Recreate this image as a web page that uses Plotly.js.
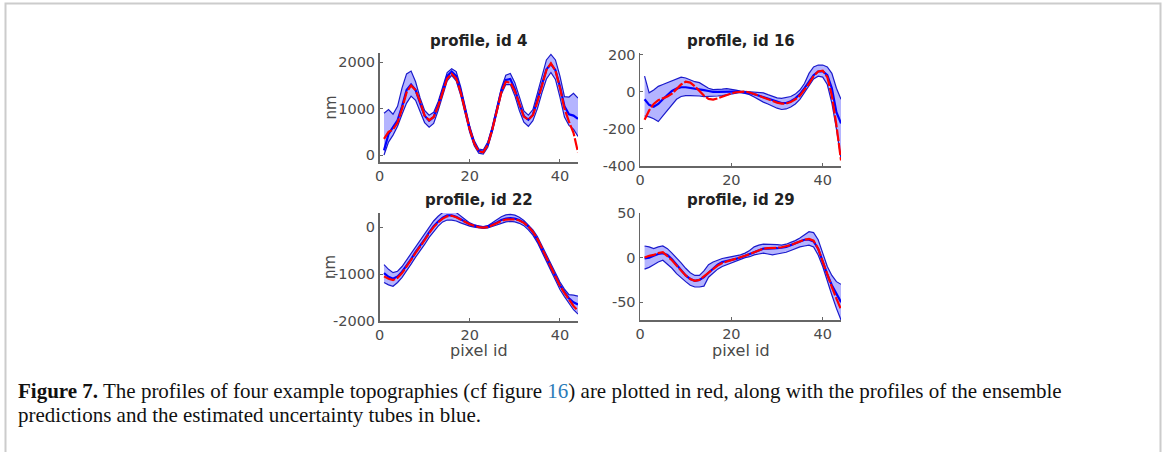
<!DOCTYPE html>
<html>
<head>
<meta charset="utf-8">
<script src="https://cdn.plot.ly/plotly-3.0.1.min.js"></script>
<style>
html,body{margin:0;padding:0;background:#fff;}
#chart{width:1165px;height:452px;}
</style>
</head>
<body>
<div id="chart"></div>
<script>
// ---- data ----
const pixelId = [1,2,3,4,5,6,7,8,9,10,11,12,13,14,15,16,17,18,19,20,21,22,23,24,25,26,27,28,29,30,31,32,33,34,35,36,37,38,39,40,41,42,43,44];

const titles = ["profile, id 4", "profile, id 16", "profile, id 22", "profile, id 29"];

// id 4
const red4   = [350,500,550,700,1000,1350,1500,1400,1150,850,750,820,1050,1350,1650,1750,1650,1350,950,550,250,80,60,220,550,950,1350,1580,1560,1380,1080,830,760,860,1150,1500,1830,1980,1820,1450,1000,720,480,60];
const blue4  = [100,450,600,750,1050,1400,1520,1400,1120,850,740,820,1070,1400,1700,1800,1700,1380,960,560,260,90,70,230,560,970,1380,1620,1640,1420,1100,840,760,870,1170,1520,1850,1960,1830,1480,1050,880,850,780];
const upper4 = [900,980,880,1050,1450,1750,1810,1580,1230,960,860,920,1150,1480,1780,1860,1800,1470,1030,620,310,130,110,280,610,1020,1440,1720,1760,1560,1230,950,860,980,1330,1720,2050,2170,2050,1700,1260,1250,1330,1230];
const lower4 = [0,280,430,620,880,1120,1270,1180,940,700,600,680,960,1300,1600,1720,1600,1290,880,490,200,40,20,170,500,910,1310,1520,1520,1280,960,710,620,740,1000,1340,1640,1780,1630,1250,820,640,560,400];

// id 16
const red16   = [-150,-100,-65,-45,-35,-25,-10,15,40,55,50,30,5,-20,-38,-42,-35,-25,-15,-8,-2,2,2,-3,-10,-20,-30,-40,-50,-58,-63,-63,-55,-40,-20,10,45,85,110,115,80,-20,-180,-370];
const blue16  = [-40,-70,-80,-65,-40,-15,5,18,25,25,22,20,15,10,5,0,0,2,3,2,1,0,0,-5,-12,-20,-28,-38,-48,-55,-60,-60,-50,-35,-12,20,55,90,110,112,90,20,-110,-170];
const upper16 = [85,-5,10,30,40,50,60,72,80,75,65,55,50,35,20,12,12,15,18,15,10,5,3,3,0,-2,-5,-15,-25,-32,-35,-32,-25,-12,10,45,100,135,145,145,135,100,20,-40];
const lower16 = [-130,-135,-145,-160,-130,-100,-70,-40,-25,-20,-20,-20,-22,-25,-25,-25,-22,-20,-15,-12,-8,-3,-8,-15,-28,-42,-55,-65,-78,-88,-95,-92,-82,-65,-40,-5,35,70,85,80,40,-60,-200,-360];

// id 22
const red22   = [-1050,-1100,-1130,-1080,-980,-850,-700,-550,-420,-280,-130,0,100,180,230,240,210,160,110,60,30,0,-10,0,40,90,130,160,170,165,140,90,10,-100,-250,-450,-650,-850,-1050,-1250,-1400,-1550,-1680,-1780];
const blue22  = [-980,-1060,-1100,-1050,-950,-820,-680,-530,-400,-260,-110,20,120,200,250,250,220,170,110,60,30,5,-5,10,50,100,150,180,190,180,150,95,10,-110,-270,-470,-670,-870,-1060,-1240,-1380,-1520,-1600,-1650];
const upper22 = [-800,-900,-970,-940,-840,-700,-560,-410,-280,-150,0,130,230,310,350,350,310,240,160,90,50,20,10,30,90,160,220,260,270,255,210,140,50,-60,-200,-390,-590,-790,-990,-1170,-1320,-1440,-1450,-1470];
const lower22 = [-1180,-1230,-1260,-1180,-1070,-940,-790,-640,-510,-370,-220,-90,20,110,150,150,130,90,50,20,0,-20,-30,-20,10,40,80,110,120,110,80,30,-60,-170,-330,-530,-740,-940,-1140,-1330,-1480,-1620,-1760,-1850];

// id 29
const red29   = [0,2,3,5,6,2,-3,-9,-15,-20,-24,-26,-25,-21,-16,-12,-9,-6,-4.5,-3,-1.5,0,2,4,6,8,10,10.5,10.5,11,11.6,12.5,14,16,18,20,21,19,10,-5,-20,-33,-46,-58];
const blue29  = [-1,0,2,4,5,3,-2,-8,-14,-20,-24,-26,-25,-22,-17,-12,-8,-5,-4,-3,-1.5,0,2,4,6,8,10,10,10,10.5,11,12,14,16,18,20,20,18,10,-5,-19,-31,-41,-50];
const upper29 = [13,12,10,12,13,10,5,0,-6,-12,-17,-20,-20,-15,-8,-5,-3,-1,0,1,2,3,5,8,12,14,15,15,15,14.5,14,15,17,19,22,26,29,28,20,5,-10,-20,-27,-30];
const lower29 = [-13,-11,-8,-5,-3,-7,-12,-18,-23,-27,-31,-33,-33,-32,-22,-17,-13,-10,-8,-6,-4,-2,0,1,3,4,5,4,3,4,5,6,8,10,12,13,14,12,3,-10,-27,-42,-57,-70];

const xTicks = [0, 20, 40];
const yTicks = [[0,1000,2000],[-400,-200,0,200],[-2000,-1000,0],[-50,0,50]];
const yRanges = [[-150,2200],[-400,210],[-2000,300],[-70,50]];

const captionLine1 = "<b>Figure 7.</b> The profiles of four example topographies (cf figure <span style='color:#2b7bb9'>16</span>) are plotted in red, along with the profiles of the ensemble";
const captionLine2 = "predictions and the estimated uncertainty tubes in blue.";

// ---- layout helpers (pixel -> paper) ----
const W = 1165, H = 452;
const px = v => v / W;
const py = v => 1 - v / H;

const panels = [
  {upper: upper4, lower: lower4, blue: blue4, red: red4, x0: 379.5, x1: 578, y0: 53, y1: 162},
  {upper: upper16, lower: lower16, blue: blue16, red: red16, x0: 640, x1: 841, y0: 53, y1: 166},
  {upper: upper22, lower: lower22, blue: blue22, red: red22, x0: 379.5, x1: 578, y0: 213, y1: 321},
  {upper: upper29, lower: lower29, blue: blue29, red: red29, x0: 640, x1: 841, y0: 213, y1: 320}
];

const traces = [];
const layout = {
  width: W, height: H,
  margin: {l: 0, r: 0, t: 0, b: 0},
  paper_bgcolor: '#fff', plot_bgcolor: 'rgba(0,0,0,0)',
  showlegend: false,
  font: {family: 'DejaVu Sans', size: 14, color: '#4a4a4a'},
  annotations: [],
  shapes: [{
    type: 'rect', xref: 'paper', yref: 'paper',
    x0: px(5.5), x1: px(1160.5), y0: py(470), y1: py(3.5),
    line: {color: '#cccccc', width: 2}, fillcolor: 'rgba(0,0,0,0)'
  }]
};

const fmt = v => String(v); // plain hyphen minus, as in the reference

panels.forEach((p, i) => {
  const n = i + 1;
  const xa = n === 1 ? 'x' : 'x' + n;
  const ya = n === 1 ? 'y' : 'y' + n;
  traces.push({x: pixelId, y: p.upper, xaxis: xa, yaxis: ya, type: 'scatter', mode: 'lines',
    line: {color: '#1a1acc', width: 1.2}, hoverinfo: 'skip'});
  traces.push({x: pixelId, y: p.lower, xaxis: xa, yaxis: ya, type: 'scatter', mode: 'lines',
    fill: 'tonexty', fillcolor: 'rgba(40,40,255,0.35)',
    line: {color: '#1a1acc', width: 1.2}, hoverinfo: 'skip'});
  traces.push({x: pixelId, y: p.blue, xaxis: xa, yaxis: ya, type: 'scatter', mode: 'lines',
    line: {color: '#0000ff', width: 2.2}});
  traces.push({x: pixelId, y: p.red, xaxis: xa, yaxis: ya, type: 'scatter', mode: 'lines',
    line: {color: '#ff0000', width: 2.2, dash: '12px,2px'}});

  const axBase = {
    showgrid: false, zeroline: false, showline: true, linecolor: '#666', linewidth: 1.5,
    ticks: 'inside', ticklen: 3, tickcolor: '#666', tickwidth: 1,
    tickfont: {family: 'DejaVu Sans', size: 14.5, color: '#4a4a4a'}, fixedrange: true
  };
  layout['xaxis' + (n === 1 ? '' : n)] = Object.assign({}, axBase, {
    domain: [px(p.x0), px(p.x1)], range: [0, 44], tickmode: 'array',
    tickvals: xTicks, ticktext: xTicks.map(fmt), anchor: ya
  });
  layout['yaxis' + (n === 1 ? '' : n)] = Object.assign({}, axBase, {
    domain: [py(p.y1), py(p.y0)], range: yRanges[i], tickmode: 'array',
    tickvals: yTicks[i], ticktext: yTicks[i].map(fmt), anchor: xa
  });

  layout.annotations.push({
    text: '<b>' + titles[i] + '</b>', xref: 'paper', yref: 'paper',
    x: px((p.x0 + p.x1) / 2), y: py(i >= 2 ? 200 : 41), xanchor: 'center', yanchor: 'middle',
    showarrow: false, font: {family: 'DejaVu Sans', size: 15, color: '#222'}
  });
  if (i >= 2) {
    layout.annotations.push({
      text: 'pixel id', xref: 'paper', yref: 'paper',
      x: px((p.x0 + p.x1) / 2), y: py(350), xanchor: 'center', yanchor: 'middle',
      showarrow: false, font: {family: 'DejaVu Sans', size: 16, color: '#4a4a4a'}
    });
  }
  if (i % 2 === 0) {
    layout.annotations.push({
      text: 'nm', xref: 'paper', yref: 'paper', textangle: -90,
      x: px(330), y: py((p.y0 + p.y1) / 2), xanchor: 'center', yanchor: 'middle',
      showarrow: false, font: {family: 'DejaVu Sans', size: 15, color: '#4a4a4a'}
    });
  }
});

layout.annotations.push({
  text: captionLine1, xref: 'paper', yref: 'paper', x: px(16), y: py(391),
  xanchor: 'left', yanchor: 'middle', align: 'left', showarrow: false,
  font: {family: 'Liberation Serif', size: 21, color: '#111'}
});
layout.annotations.push({
  text: captionLine2, xref: 'paper', yref: 'paper', x: px(16), y: py(415),
  xanchor: 'left', yanchor: 'middle', align: 'left', showarrow: false,
  font: {family: 'Liberation Serif', size: 21, color: '#111'}
});

Plotly.newPlot('chart', traces, layout, {displayModeBar: false, staticPlot: true});
</script>
</body>
</html>
